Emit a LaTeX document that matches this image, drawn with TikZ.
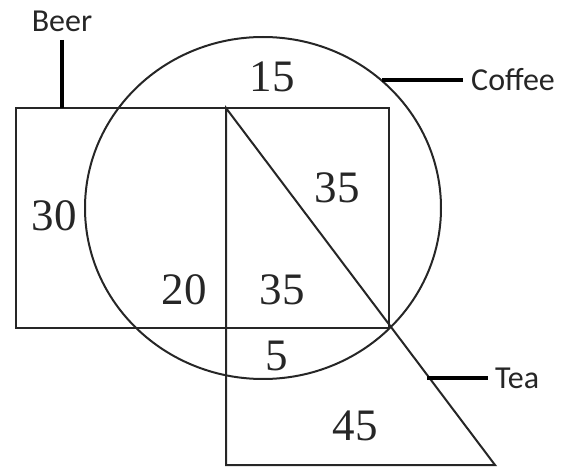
\documentclass[tikz,border=0pt]{standalone}
\usepackage{fontspec}
\setmainfont{Liberation Serif}
\newfontfamily\calibri{Carlito}
\tikzset{
  setline/.style={draw=black!85, line width=2pt},
  callout/.style={draw=black, line width=4pt},
  countnum/.style={font=\fontsize{45}{45}\selectfont, inner sep=0pt, text=black!85},
  setname/.style={font=\calibri\fontsize{32}{32}\selectfont, inner sep=0pt, text=black!85}
}

\begin{document}
\begin{tikzpicture}[x=1pt, y=-1pt]
  \useasboundingbox (0,0) rectangle (566,468);
  % Beer: rectangle
  \coordinate (rectNW) at (16,108);
  \coordinate (rectSE) at (389,328);
  \draw[setline] (rectNW) rectangle (rectSE);
  % Coffee: circle
  \coordinate (circC) at (263,208);
  \draw[setline] (circC) ellipse [x radius=178, y radius=171];
  % Tea: triangle
  \coordinate (triTop) at (226,108);
  \coordinate (triLeft) at (226,465);
  \coordinate (triRight) at (495,465);
  \draw[setline] (triTop) -- (triLeft) -- (triRight) -- cycle;

  % set names and their lines
  \node[setname] (beer) at (62,21) {Beer};
  \coordinate (beerTick) at (62,40);
  \draw[callout] (beerTick) -- (beerTick |- rectNW);

  \node[setname, anchor=west] (coffee) at (471,80) {Coffee};
  \coordinate (coffeeTick) at (382,80);
  \draw[callout] (coffeeTick) -- ([xshift=-8pt]coffee.west);

  \node[setname, anchor=west] (tea) at (495,378) {Tea};
  \coordinate (teaTick) at (427,378);
  \draw[callout] (teaTick) -- ([xshift=-7pt]tea.west);

  % counts
  \node[countnum] (onlyCoffee) at (272,77) {15};
  \node[countnum] (coffeeTea) at (337,188) {35};
  \node[countnum] (onlyBeer) at (54,216) {30};
  \node[countnum] (beerCoffee) at (184,290) {20};
  \node[countnum] (allThree) at (282,290) {35};
  \node[countnum] (teaCoffee) at (277,356) {5};
  \node[countnum] (onlyTea) at (355,426) {45};
\end{tikzpicture}
\end{document}
